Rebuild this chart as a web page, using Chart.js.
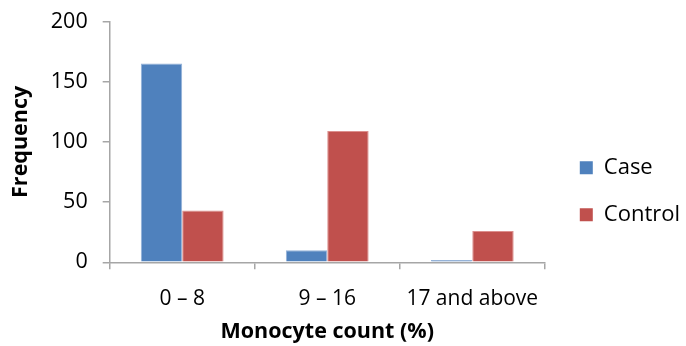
<!DOCTYPE html>
<html>
<head>
<meta charset="utf-8">
<script src="https://cdn.jsdelivr.net/npm/chart.js@4"></script>
<style>
  html, body { margin: 0; padding: 0; background: #fff; }
  #wrap { width: 686px; height: 346px; }
</style>
</head>
<body>
<div id="wrap"><canvas id="chart"></canvas></div>
<script>
const categories = ['0 – 8', '9 – 16', '17 and above']
const caseValues = [165, 10, 2]
const controlValues = [43, 109, 26]
const yTicks = [0, 50, 100, 150, 200]

const axisColor = '#a6a6a6'
const fontFamily = "'Open Sans', 'Liberation Sans', sans-serif"

// nudge the legend to the right, like the original
const legendShift = {
  id: 'legendShift',
  afterLayout(chart) {
    const lg = chart.legend
    if (!lg) return
    lg.left += 10
    lg.right += 10
  }
}

new Chart(document.getElementById('chart'), {
  type: 'bar',
  data: {
    labels: categories,
    datasets: [
      { label: 'Case', data: caseValues, backgroundColor: '#4f81bd', borderColor: '#93b1d8', borderWidth: 1 },
      { label: 'Control', data: controlValues, backgroundColor: '#c0504d', borderColor: '#dc8f8d', borderWidth: 1 }
    ]
  },
  options: {
    responsive: true,
    maintainAspectRatio: false,
    animation: false,
    categoryPercentage: 0.571,
    barPercentage: 1,
    layout: { padding: { top: 2, left: 8, right: 6, bottom: -3 } },
    plugins: {
      tooltip: { enabled: false },
      legend: {
        position: 'right',
        title: { display: true, text: ' ', font: { size: 2 }, padding: { top: 0, bottom: 29 } },
        labels: {
          color: '#000',
          font: { family: fontFamily, size: 22 },
          boxWidth: 13,
          boxHeight: 13,
          padding: 25,
          generateLabels: chart => Chart.defaults.plugins.legend.labels.generateLabels(chart).map(l => ({ ...l, lineWidth: 0 }))
        }
      }
    },
    scales: {
      x: {
        offset: true,
        grid: { display: true, drawOnChartArea: false, color: axisColor, tickLength: 7, offset: true, lineWidth: 1.5 },
        border: { color: axisColor, width: 1.5 },
        ticks: { color: '#000', font: { family: fontFamily, size: 21 }, padding: 17, maxRotation: 0, autoSkip: false },
        title: { display: true, text: 'Monocyte count (%)', color: '#000', font: { family: fontFamily, size: 21.5, weight: 'bold', lineHeight: 1 }, padding: { top: -7, bottom: 6 } }
      },
      y: {
        min: 0,
        max: 200,
        afterBuildTicks: axis => { axis.ticks = yTicks.map(v => ({ value: v })) },
        grid: { display: true, drawOnChartArea: false, color: axisColor, tickLength: 7, lineWidth: 1.5 },
        border: { color: axisColor, width: 1.5 },
        ticks: { color: '#000', font: { family: fontFamily, size: 21.5, lineHeight: 0.6 }, padding: 15 },
        title: { display: true, text: 'Frequency', color: '#000', font: { family: fontFamily, size: 21.5, weight: 'bold' }, padding: { top: 0, bottom: 2 } }
      }
    }
  },
  plugins: [legendShift]
})
</script>
</body>
</html>
